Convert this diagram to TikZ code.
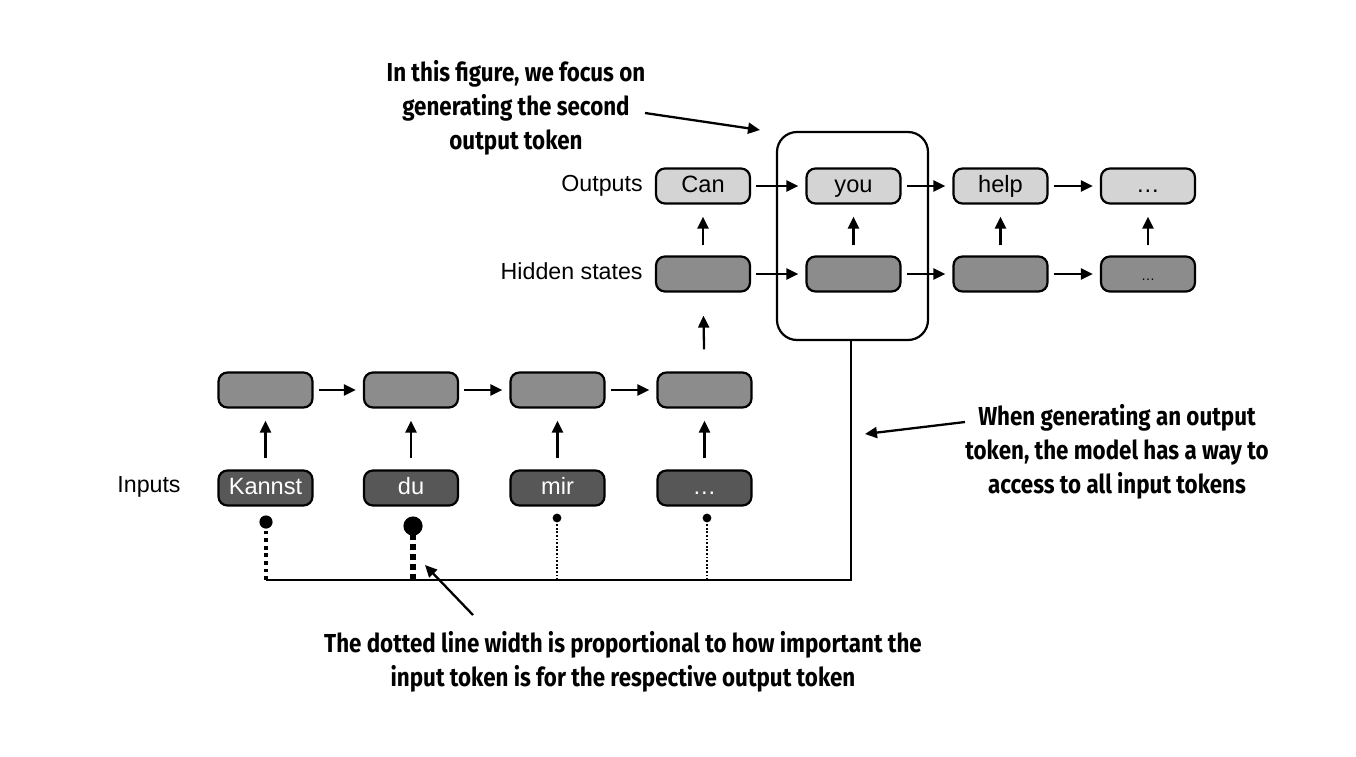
\documentclass[tikz,border=0pt]{standalone}
\usepackage{fontspec}
\setmainfont{Liberation Sans}
\newfontfamily\annfont[FakeStretch=0.86]{Fira Sans}
\usetikzlibrary{arrows.meta}
\definecolor{outgray}{HTML}{D4D4D4}
\definecolor{hidgray}{HTML}{8C8C8C}
\definecolor{ingray}{HTML}{575757}
\begin{document}
\begin{tikzpicture}[x=0.5pt,y=-0.5pt,
 tok/.style={draw=black, line width=1.1pt, rounded corners=4.5pt, minimum width=47pt, minimum height=17.5pt, inner sep=0pt, text height=8.6pt, text depth=2.4pt, font=\fontsize{11.8}{13}\selectfont},
 outbox/.style={tok, fill=outgray},
 hidbox/.style={tok, fill=hidgray},
 inbox/.style={tok, fill=ingray, text=white},
 arr/.style={line width=1.15pt, -{Triangle[length=6pt,width=5.5pt]}},
 harr/.style={arr, shorten <=2.5pt, shorten >=3.5pt},
 ann/.style={font=\annfont\bfseries\fontsize{13}{17}\selectfont, align=center},
 lab/.style={font=\fontsize{11.6}{13}\selectfont, inner sep=0pt},
 dotline/.style={line cap=butt}]
\useasboundingbox (0,0) rectangle (1356,756);
% input row
\node[inbox] (i1) at (265.5,488) {Kannst};
\node[inbox] (i2) at (411,488) {du};
\node[inbox] (i3) at (557.5,488) {mir};
\node[inbox] (i4) at (704.5,488) {\ldots};
% encoder hidden
\node[hidbox] (e1) at (265.5,390) {};
\node[hidbox] (e2) at (411,390) {};
\node[hidbox] (e3) at (557.5,390) {};
\node[hidbox] (e4) at (704.5,390) {};
% decoder hidden
\node[hidbox] (h1) at (703,274) {};
\node[hidbox] (h2) at (853.5,274) {};
\node[hidbox] (h3) at (1000.5,274) {};
\node[hidbox] (h4) at (1148,274) {\scriptsize\ldots};
% outputs
\node[outbox] (o1) at (703,186) {Can};
\node[outbox] (o2) at (853.5,186) {you};
\node[outbox] (o3) at (1000.5,186) {help};
\node[outbox] (o4) at (1148,186) {\ldots};
% labels
\node[lab, anchor=east] (lo) at (643,186) {Outputs};
\node[lab, anchor=east] (lh) at (643,271) {Hidden states};
\node[lab] (li) at (149,487) {Inputs};
% focus box
\node[draw=black, line width=1.1pt, rounded corners=10pt, minimum width=75.5pt, minimum height=104pt, inner sep=0pt] (focus) at (852.5,236) {};
% arrows
\foreach \a/\b in {e1/e2,e2/e3,e3/e4,h1/h2,h2/h3,h3/h4,o1/o2,o2/o3,o3/o4}
  \draw[harr] (\a.east) -- (\b.west);
\foreach \a/\b in {i1/e1,i2/e2,i3/e3,i4/e4}
  \draw[arr, shorten <=5.5pt, shorten >=6pt] (\a.north) -- (\b.south);
\foreach \a/\b in {h1/o1,h2/o2,h3/o3,h4/o4}
  \draw[arr, shorten <=5pt, shorten >=6pt] (\a.north) -- (\b.south);
\draw[arr, shorten <=11pt, shorten >=11.5pt] (e4.north) -- (h1.south);
% attention line
\coordinate (c0) at (851,580);
\coordinate (b1) at (266,580);
\coordinate (b2) at (413,580);
\coordinate (b3) at (557,580);
\coordinate (b4) at (707,580);
\coordinate (d1) at (266,522);
\coordinate (d2) at (413,526);
\coordinate (d3) at (557,518);
\coordinate (d4) at (707,518);
\draw[line width=1.1pt] ([xshift=-0.75pt]focus.south) |- (c0) -- (b1);
\draw[dotline, line width=1.9pt, dash pattern=on 1.9pt off 1.9pt] (b1) -- (d1);
\draw[dotline, line width=2.9pt, dash pattern=on 2.8pt off 2.2pt] (b2) -- (d2);
\draw[dotline, line width=0.8pt, dash pattern=on 0.9pt off 0.9pt] (b3) -- (d3);
\draw[dotline, line width=0.8pt, dash pattern=on 0.9pt off 0.9pt] (b4) -- (d4);
\fill (d1) circle (3.3pt);
\fill (d2) circle (4.8pt);
\fill (d3) circle (2.2pt);
\fill (d4) circle (2.2pt);
% annotations
\node[ann] (t1) at (516,108) {In this figure, we focus on\\generating the second\\output token};
\node[ann] (t2) at (1117,452) {When generating an output\\token, the model has a way to\\access to all input tokens};
\node[ann] (t3) at (623,662) {The dotted line width is proportional to how important the\\input token is for the respective output token};
\coordinate (p1) at (645,113);
\coordinate (q1) at (760,130);
\coordinate (p2) at (965,422);
\coordinate (q2) at (865,434);
\coordinate (p3) at (473,615);
\coordinate (q3) at (425,565);
\draw[arr] (p1) -- (q1);
\draw[arr] (p2) -- (q2);
\draw[arr] (p3) -- (q3);
\end{tikzpicture}
\end{document}
